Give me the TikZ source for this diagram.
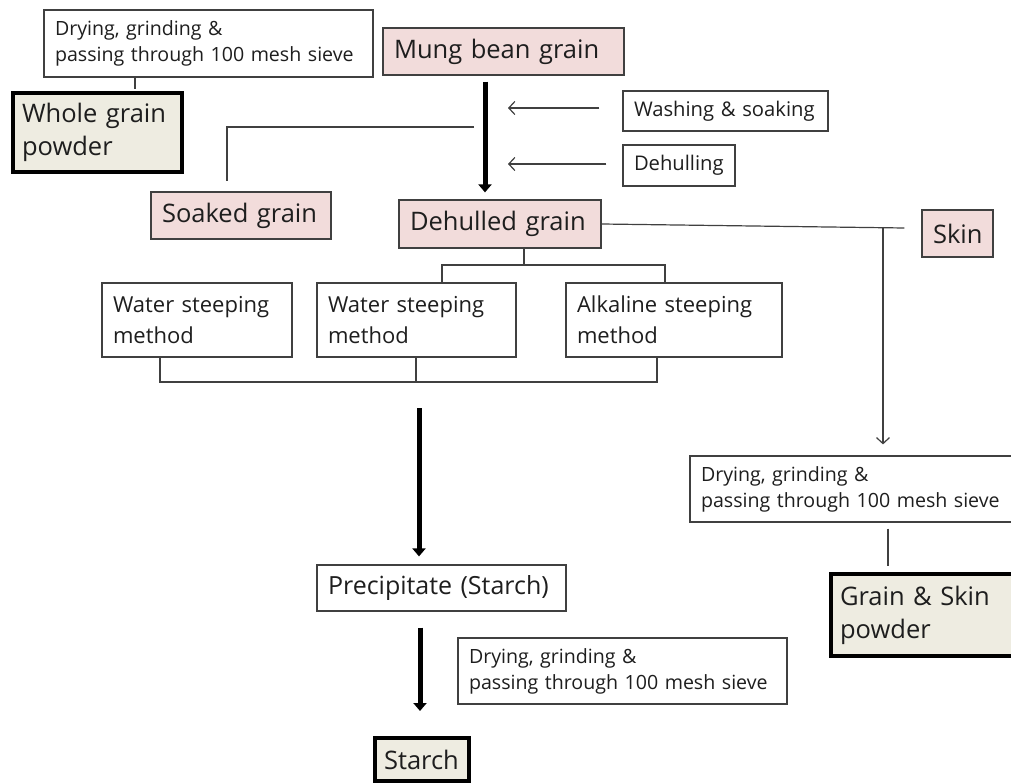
\documentclass[tikz,border=0pt]{standalone}
\usepackage{fontspec}
\setmainfont{Open Sans}
\usetikzlibrary{arrows.meta,calc}
\definecolor{pinkfill}{HTML}{F2DCDB}
\definecolor{beigefill}{HTML}{EEECE1}
\definecolor{edgecol}{HTML}{404040}
\definecolor{txtcol}{HTML}{1E1E1E}
\tikzset{
  box/.style={draw=edgecol, line width=1.2pt, align=left, inner xsep=11pt, inner ysep=0pt, text=txtcol, fill=white},
  pbox/.style={box, fill=pinkfill},
  gbox/.style={box, fill=beigefill, draw=black, line width=4pt, inner xsep=9pt},
  fsmall/.style={font=\fontsize{19.6}{26}\selectfont},
  fmid/.style={font=\fontsize{20.2}{28}\selectfont},
  fws/.style={font=\fontsize{22}{31}\selectfont},
  fprec/.style={font=\fontsize{25}{31}\selectfont},
  flarge/.style={font=\fontsize{25.5}{33}\selectfont},
  conn/.style={draw=edgecol, line width=1.2pt},
  thinarrow/.style={conn, -{Straight Barb[length=6pt,width=13pt,line width=1.2pt]}},
  fatarrow/.style={draw=black, line width=5pt, -{Triangle[length=8pt,width=13pt]}},
}
\newcommand\oneline[1]{\mbox{#1}}
\begin{document}
\begin{tikzpicture}[x=1pt,y=-1pt]
\useasboundingbox[fill=white] (0,0) rectangle (1011,783);

% boxes
\node[box, fsmall, minimum width=329pt, minimum height=67pt, text width=307pt] (dry1) at (208.5,43.5)
  {\oneline{Drying, grinding \&}\\\oneline{passing through 100 mesh sieve}};
\node[gbox, flarge, minimum width=169pt, minimum height=79pt, text width=151pt] (wgp) at (97.5,132.5)
  {\oneline{Whole grain}\\\oneline{powder}};
\node[pbox, flarge, minimum width=241pt, minimum height=47pt, text width=219pt] (mung) at (503.5,51.5)
  {\oneline{Mung bean grain}};
\node[box, fmid, minimum width=205pt, minimum height=40pt, text width=183pt] (wash) at (725.5,111)
  {\oneline{Washing \& soaking}};
\node[box, fmid, minimum width=112pt, minimum height=41pt, text width=90pt] (dehull) at (679,165.5)
  {\oneline{Dehulling}};
\node[pbox, flarge, minimum width=180pt, minimum height=47pt, text width=158pt] (soaked) at (241,215.5)
  {\oneline{Soaked grain}};
\node[pbox, flarge, minimum width=202pt, minimum height=48pt, text width=180pt] (dehulled) at (500,224)
  {\oneline{Dehulled grain}};
\node[pbox, flarge, minimum width=71pt, minimum height=47pt, text width=49pt] (skin) at (957.5,233.5)
  {\oneline{Skin}};
\node[box, fws, minimum width=190pt, minimum height=74pt, text width=168pt] (ws1) at (197,320)
  {\oneline{Water steeping}\\\oneline{method}};
\node[box, fws, minimum width=199pt, minimum height=74pt, text width=177pt] (ws2) at (416.5,320)
  {\oneline{Water steeping}\\\oneline{method}};
\node[box, fws, minimum width=216pt, minimum height=74pt, text width=194pt] (alk) at (674,320)
  {\oneline{Alkaline steeping}\\\oneline{method}};
\node[box, fsmall, minimum width=324pt, minimum height=66pt, text width=302pt] (dry2) at (852,489)
  {\oneline{Drying, grinding \&}\\\oneline{passing through 100 mesh sieve}};
\node[gbox, flarge, minimum width=184pt, minimum height=82pt, text width=166pt] (gsp) at (923,615)
  {\oneline{Grain \& Skin}\\\oneline{powder}};
\node[box, fprec, minimum width=249pt, minimum height=46pt, text width=227pt] (prec) at (441.5,588)
  {\oneline{Precipitate (Starch)}};
\node[box, fsmall, minimum width=329pt, minimum height=66pt, text width=307pt] (dry3) at (622.5,671)
  {\oneline{Drying, grinding \&}\\\oneline{passing through 100 mesh sieve}};
\node[gbox, flarge, minimum width=94pt, minimum height=43pt, text width=76pt] (starch) at (422,759.5)
  {\oneline{Starch}};

% helper coordinates on flow lines
\coordinate (t0) at (474,127);
\coordinate (t1) at (508,108);
\coordinate (t2) at (508,164);
\coordinate (m) at (524,265);
\coordinate (b) at (416,382);
\coordinate (j) at (883,227);

% connectors
\draw[conn] ([xshift=-73.5pt]dry1.south) -- ([xshift=37.5pt,yshift=2pt]wgp.north);
\draw[fatarrow] ([xshift=-18.5pt,yshift=-6pt]mung.south) -- ([xshift=-15pt,yshift=7pt]dehulled.north);
\draw[thinarrow] ([xshift=-23pt,yshift=3pt]wash.west) -- (t1);
\draw[thinarrow] ([xshift=-16pt,yshift=1.5pt]dehull.west) -- (t2);
\draw[conn] (t0) -| ([xshift=-14pt,yshift=10pt]soaked.north);
\draw[conn] ([xshift=24pt]dehulled.south) -- (m);
\draw[conn] ([xshift=25.5pt]ws2.north) |- (m) -| ([xshift=-9pt]alk.north);
\draw[conn] ([xshift=-37pt]ws1.south) |- (b) -| ([xshift=-17pt]alk.south);
\draw[conn] ([xshift=-0.5pt]ws2.south) -- (b);
\draw[fatarrow] ([xshift=3pt,yshift=-26pt]b) -- ([xshift=-22.5pt,yshift=8pt]prec.north);
\draw[fatarrow] ([xshift=-21.5pt,yshift=-16pt]prec.south) -- ([xshift=-2pt,yshift=25pt]starch.north);
\draw[conn] (dehulled.east) -- ([xshift=-17pt,yshift=5.5pt]skin.west);
\draw[thinarrow] (j) -- ([xshift=31pt,yshift=11pt]dry2.north);
\draw[conn] ([xshift=36pt,yshift=-6pt]dry2.south) -- ([xshift=-35pt,yshift=6pt]gsp.north);
\end{tikzpicture}
\end{document}
